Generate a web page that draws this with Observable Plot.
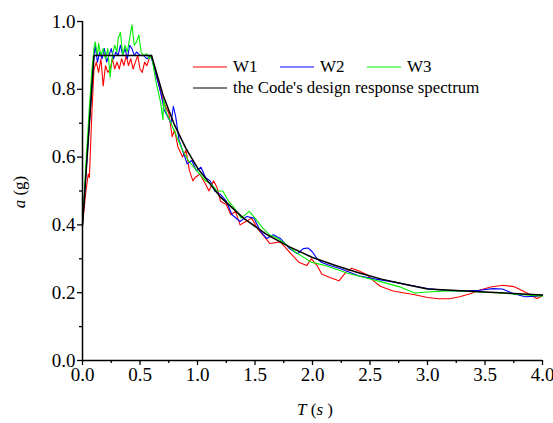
<!DOCTYPE html>
<html>
<head>
<meta charset="utf-8">
<script src="https://cdn.jsdelivr.net/npm/d3@7"></script>
<script src="https://cdn.jsdelivr.net/npm/@observablehq/plot@0.6"></script>
<style>
  body { margin: 0; background: #fff; }
  #wrap { position: relative; width: 553px; height: 423px; font-family: "Liberation Serif", "DejaVu Serif", serif; }
  #wrap svg text { font-family: "Liberation Serif", "DejaVu Serif", serif !important; font-variant: normal !important; }
  .lab { position: absolute; color: #000; font-size: 17px; white-space: nowrap; }
  #legend { position: absolute; left: 193px; top: 56px; color: #000; }
  .row { display: flex; align-items: center; height: 21px; }
  .item { display: flex; align-items: center; width: 87px; white-space: nowrap; }
  .item svg { margin-right: 6px; flex: none; }
  .item span { font-size: 17px; }
</style>
</head>
<body>
<div id="wrap"></div>
<script>
// ---- data ----
const seriesNames = ["W1", "W2", "W3"];
const seriesColors = ["#ff0000", "#0000ff", "#00ee00"];
const codeName = "the Code's design response spectrum";

const T_W1 = [0,0.03,0.05,0.06,0.08,0.1,0.12,0.14,0.16,0.18,0.2,0.22,0.24,0.26,0.28,0.3,0.32,0.34,0.36,0.38,0.4,0.42,0.44,0.46,0.48,0.5,0.52,0.54,0.56,0.58,0.6,0.62,0.64,0.66,0.68,0.7,0.72,0.75,0.78,0.8,0.83,0.87,0.9,0.93,0.96,0.98,1.02,1.07,1.1,1.14,1.17,1.2,1.25,1.29,1.33,1.37,1.42,1.47,1.52,1.57,1.63,1.72,1.8,1.88,1.95,1.99,2.04,2.08,2.15,2.23,2.29,2.34,2.4,2.47,2.53,2.59,2.7,2.8,2.89,3.0,3.1,3.19,3.28,3.37,3.45,3.55,3.66,3.75,3.83,3.9,3.95,4.0];
const A_W1 = [0.40,0.50,0.55,0.54,0.72,0.86,0.88,0.85,0.89,0.81,0.87,0.85,0.86,0.89,0.86,0.88,0.86,0.89,0.87,0.90,0.87,0.89,0.86,0.88,0.90,0.86,0.85,0.88,0.87,0.89,0.90,0.87,0.84,0.82,0.79,0.77,0.75,0.73,0.66,0.68,0.63,0.60,0.62,0.56,0.53,0.54,0.55,0.52,0.50,0.53,0.51,0.47,0.46,0.43,0.44,0.40,0.41,0.42,0.39,0.37,0.345,0.35,0.32,0.29,0.28,0.30,0.28,0.255,0.245,0.235,0.26,0.272,0.265,0.254,0.235,0.219,0.205,0.199,0.194,0.186,0.182,0.182,0.188,0.197,0.207,0.217,0.222,0.218,0.205,0.193,0.183,0.19];

const T_W2 = [0,0.03,0.06,0.08,0.1,0.11,0.13,0.15,0.17,0.19,0.21,0.23,0.25,0.27,0.29,0.31,0.33,0.35,0.37,0.39,0.41,0.43,0.45,0.47,0.5,0.53,0.56,0.59,0.62,0.65,0.68,0.71,0.74,0.77,0.79,0.81,0.84,0.88,0.91,0.95,0.99,1.03,1.07,1.11,1.15,1.2,1.25,1.3,1.37,1.43,1.49,1.55,1.6,1.66,1.72,1.8,1.87,1.92,1.96,2.0,2.04,2.08,2.15,2.25,2.4,2.55,2.7,2.85,3.0,3.15,3.3,3.45,3.57,3.65,3.75,3.85,3.95,4.0];
const A_W2 = [0.40,0.55,0.70,0.80,0.90,0.93,0.88,0.91,0.89,0.92,0.88,0.90,0.92,0.89,0.91,0.90,0.93,0.90,0.92,0.89,0.93,0.92,0.90,0.91,0.90,0.90,0.89,0.90,0.87,0.83,0.79,0.74,0.72,0.70,0.75,0.72,0.65,0.61,0.58,0.59,0.56,0.57,0.54,0.53,0.50,0.49,0.47,0.43,0.41,0.425,0.42,0.38,0.36,0.371,0.36,0.33,0.315,0.33,0.332,0.32,0.30,0.289,0.28,0.27,0.25,0.24,0.232,0.222,0.212,0.207,0.205,0.207,0.212,0.211,0.197,0.188,0.19,0.192];

const T_W3 = [0,0.03,0.06,0.08,0.1,0.11,0.13,0.14,0.16,0.18,0.2,0.22,0.24,0.26,0.28,0.3,0.31,0.33,0.35,0.37,0.39,0.41,0.43,0.45,0.47,0.49,0.51,0.53,0.56,0.58,0.6,0.62,0.64,0.66,0.68,0.7,0.705,0.73,0.77,0.82,0.87,0.92,0.97,1.02,1.07,1.12,1.17,1.22,1.27,1.32,1.38,1.45,1.5,1.57,1.63,1.7,1.78,1.85,1.92,1.99,2.05,2.11,2.2,2.3,2.45,2.6,2.75,2.89,3.0,3.2,3.4,3.6,3.8,4.0];
const A_W3 = [0.40,0.58,0.75,0.85,0.92,0.94,0.90,0.935,0.90,0.92,0.89,0.92,0.836,0.90,0.93,0.91,0.95,0.968,0.90,0.93,0.91,0.95,0.99,0.93,0.94,0.96,0.91,0.90,0.905,0.89,0.90,0.86,0.82,0.79,0.76,0.71,0.77,0.73,0.70,0.66,0.62,0.59,0.57,0.55,0.53,0.52,0.50,0.50,0.47,0.45,0.42,0.44,0.42,0.39,0.37,0.36,0.34,0.32,0.305,0.29,0.285,0.28,0.27,0.258,0.245,0.232,0.218,0.199,0.202,0.206,0.203,0.20,0.195,0.19];

const T_code = [0,0.1,0.6,0.7,0.8,0.9,1.0,1.2,1.4,1.6,1.8,2.0,2.2,2.4,2.6,2.8,3.0,3.5,4.0];
const A_code = [0.40,0.90,0.90,0.783,0.695,0.625,0.568,0.482,0.42,0.372,0.335,0.304,0.28,0.259,0.24,0.225,0.211,0.202,0.193];

const xTicks = [0,0.5,1,1.5,2,2.5,3,3.5,4];
const xMinor = [0.25,0.75,1.25,1.75,2.25,2.75,3.25,3.75];
const yTicks = [0,0.2,0.4,0.6,0.8,1.0];
const yMinor = [0.1,0.3,0.5,0.7,0.9];

// ---- build tables ----
const pairs = (T, A) => T.map((t, i) => ({T: t, a: A[i]}));
const W = [pairs(T_W1, A_W1), pairs(T_W2, A_W2), pairs(T_W3, A_W3)];
const code = pairs(T_code, A_code);

const serif = "Liberation Serif";
const chart = Plot.plot({
  width: 553, height: 423,
  marginLeft: 82, marginRight: 11, marginTop: 21, marginBottom: 63,
  x: {domain: [0, 4]},
  y: {domain: [0, 1]},
  style: {fontFamily: "Liberation Serif, serif", fontSize: "19px", color: "#000", background: "#fff", overflow: "visible"},
  marks: [
    Plot.axisX({ticks: xTicks, tickSize: 5, tickPadding: 2, tickFormat: d => d.toFixed(1), label: null, fontSize: 19, fontFamily: serif, strokeWidth: 1.3}),
    Plot.axisX({ticks: xMinor, tickSize: 3, text: null, label: null, strokeWidth: 1.3}),
    Plot.axisY({ticks: yTicks, tickSize: 5, tickPadding: 2, tickFormat: d => d.toFixed(1), label: null, fontSize: 19, fontFamily: serif, strokeWidth: 1.3}),
    Plot.axisY({ticks: yMinor, tickSize: 3, text: null, label: null, strokeWidth: 1.3}),
    ...W.map((d, i) => Plot.line(d, {x: "T", y: "a", stroke: seriesColors[i], strokeWidth: 1.1})),
    Plot.line(code, {x: "T", y: "a", stroke: "#000", strokeWidth: 1.5}),
    Plot.ruleX([0], {strokeWidth: 1.5}),
    Plot.ruleY([0], {strokeWidth: 1.5})
  ]
});

const wrap = document.getElementById("wrap");
wrap.appendChild(chart);

// axis titles
const xl = document.createElement("div");
xl.className = "lab";
xl.style.left = "297px"; xl.style.top = "400px";
xl.innerHTML = "<i>T</i> (<i>s</i> )";
wrap.appendChild(xl);

const yl = document.createElement("div");
yl.className = "lab";
yl.style.left = "20px"; yl.style.top = "192px";
yl.style.transform = "translate(-50%,-50%) rotate(-90deg)";
yl.innerHTML = "<i>a</i> (g)";
wrap.appendChild(yl);

// legend
const lg = document.createElement("div");
lg.id = "legend";
const sw = c => `<svg width="34" height="4"><line x1="0" x2="34" y1="2" y2="2" stroke="${c}" stroke-width="1.2"/></svg>`;
const row1 = document.createElement("div");
row1.className = "row";
row1.innerHTML = seriesNames.map((n, i) => `<div class="item">${sw(seriesColors[i])}<span>${n}</span></div>`).join("");
const row2 = document.createElement("div");
row2.className = "row";
row2.innerHTML = `<div class="item" style="width:auto">${sw("#000")}<span style="font-size:16.8px">${codeName}</span></div>`;
lg.appendChild(row1);
lg.appendChild(row2);
wrap.appendChild(lg);
</script>
</body>
</html>
